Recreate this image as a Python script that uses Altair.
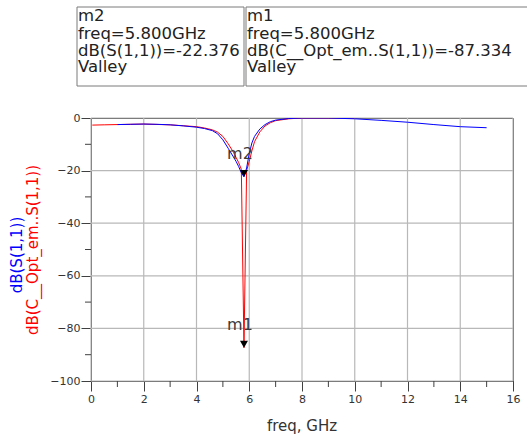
import altair as alt
import pandas as pd

# S-parameter sweeps (frequency in GHz, magnitude in dB)
s11_freq = [1.0, 1.5, 2.0, 2.5, 3.0, 3.5, 4.0, 4.3, 4.6, 4.8, 5.0, 5.2, 5.4, 5.5,
            5.6, 5.7, 5.8, 5.9, 6.0, 6.1, 6.2, 6.4, 6.6, 6.8, 7.0, 7.5, 8.0, 9.0,
            10.0, 11.0, 12.0, 13.0, 14.0, 15.0]
s11_db = [-2.5, -2.4, -2.3, -2.4, -2.6, -3.0, -3.5, -4.0, -4.8, -6.0, -8.3, -11.5,
          -14.8, -16.5, -18.5, -20.8, -22.376, -19.0, -13.5, -9.5, -7.0, -4.2, -2.5,
          -1.4, -0.8, -0.2, 0.0, 0.0, -0.3, -0.9, -1.6, -2.5, -3.3, -3.7]

opt_freq = [0.05, 0.5, 1.0, 2.0, 3.0, 4.0, 4.3, 4.6, 4.8, 5.0, 5.2, 5.4, 5.5, 5.6,
            5.7, 5.8, 5.9, 6.0, 6.1, 6.2, 6.4, 6.6, 6.8, 7.0, 7.5, 8.0, 9.0, 10.0]
opt_db = [-2.7, -2.6, -2.5, -2.3, -2.6, -3.3, -3.8, -4.5, -5.4, -7.0, -9.8, -13.0,
          -15.0, -17.0, -19.5, -87.334, -20.0, -16.5, -12.5, -9.0, -5.3, -3.0, -1.8,
          -1.0, -0.3, 0.0, 0.0, 0.0]

trace_names = ["dB(C__Opt_em..S(1,1))", "dB(S(1,1))"]
trace_colors = ["#ff0000", "#0000ff"]

# Valley markers
marker_names = ["m2", "m1"]
marker_freq = [5.8, 5.8]
marker_db = [-22.376, -87.334]
marker_traces = ["dB(S(1,1))", "dB(C__Opt_em..S(1,1))"]

x_major = [0, 2, 4, 6, 8, 10, 12, 14, 16]
x_minor = [1, 3, 5, 7, 9, 11, 13, 15]
y_major = [-100, -80, -60, -40, -20, 0]
y_minor = [-90, -70, -50, -30, -10]

FONT = "DejaVu Sans"
AXIS_GRAY = "#404040"
GRID_GRAY = "#b8b8b8"
W, H = 422, 263

curves = pd.concat([
    pd.DataFrame({"trace": trace_names[0], "freq": opt_freq, "db": opt_db,
                  "idx": range(len(opt_freq))}),
    pd.DataFrame({"trace": trace_names[1], "freq": s11_freq, "db": s11_db,
                  "idx": range(len(s11_freq))}),
])
markers = pd.DataFrame({"name": marker_names, "freq": marker_freq, "db": marker_db})

x_scale = alt.Scale(domain=[0, 16], nice=False, zero=False)
y_scale = alt.Scale(domain=[-100, 0], nice=False, zero=False)

x_axis = alt.Axis(values=x_major, grid=False, tickSize=10,
                  tickColor=AXIS_GRAY, domainColor=AXIS_GRAY, labelFont=FONT,
                  labelFontSize=11, labelColor="#333333", labelPadding=2,
                  labelFlush=False, title=None)
y_axis = alt.Axis(values=y_major, grid=False, tickSize=10,
                  tickColor=AXIS_GRAY, domainColor=AXIS_GRAY, labelFont=FONT,
                  labelFontSize=11, labelColor="#333333", labelPadding=1,
                  labelFlush=False, title=None)

X = lambda f: alt.X(f, scale=x_scale, axis=x_axis)
Y = lambda f: alt.Y(f, scale=y_scale, axis=y_axis)

# light grid at the labelled ticks
x_grid = alt.Chart(pd.DataFrame({"freq": x_major})).mark_rule(
    color=GRID_GRAY, strokeWidth=1.2
).encode(x=X("freq:Q"), y=alt.value(0), y2=alt.value(H))
y_grid = alt.Chart(pd.DataFrame({"db": y_major})).mark_rule(
    color=GRID_GRAY, strokeWidth=1.2
).encode(y=Y("db:Q"), x=alt.value(0), x2=alt.value(W))

lines = alt.Chart(curves).mark_line(strokeWidth=1, clip=True).encode(
    x=X("freq:Q"),
    y=Y("db:Q"),
    color=alt.Color("trace:N", scale=alt.Scale(domain=trace_names, range=trace_colors),
                    legend=None),
    order="idx:Q",
)

# minor ticks between the labelled ones
x_minor_ticks = alt.Chart(pd.DataFrame({"freq": x_minor})).mark_rule(
    color=AXIS_GRAY, strokeWidth=1
).encode(x=X("freq:Q"), y=alt.value(H), y2=alt.value(H + 6))
y_minor_ticks = alt.Chart(pd.DataFrame({"db": y_minor})).mark_rule(
    color=AXIS_GRAY, strokeWidth=1
).encode(y=Y("db:Q"), x=alt.value(-6), x2=alt.value(0))

marker_pts = alt.Chart(markers).mark_point(
    shape="triangle-down", filled=True, color="black", size=64, opacity=1, yOffset=-3.5
).encode(x=X("freq:Q"), y=Y("db:Q"))
marker_lbl = alt.Chart(markers).mark_text(
    font=FONT, fontSize=16, color="#3a3a3a", dx=-4, dy=-17.5, baseline="alphabetic"
).encode(x=X("freq:Q"), y=Y("db:Q"), text="name:N")

one = pd.DataFrame({"k": [0]})


def label(text, x, y, size, color="#222222", angle=0, align="left", baseline="alphabetic"):
    return alt.Chart(one).mark_text(
        font=FONT, fontSize=size, color=color, angle=angle, align=align, baseline=baseline
    ).encode(x=alt.value(x), y=alt.value(y), text=alt.value(text))


def readout_box(x0, x1, name, trace, value):
    box = alt.Chart(one).mark_rect(fillOpacity=0, stroke="#7a7a7a", strokeWidth=1).encode(
        x=alt.value(x0), x2=alt.value(x1), y=alt.value(-111), y2=alt.value(-32)
    )
    rows = [name, "freq=5.800GHz", f"{trace}={value:.3f}", "Valley"]
    texts = [label(t, x0 + 1, y, 16.5) for t, y in zip(rows, [-97, -79.5, -62.5, -46])]
    return [box] + texts


layers = [x_grid, y_grid, lines, x_minor_ticks, y_minor_ticks, marker_pts, marker_lbl]
layers += readout_box(-14, 153, marker_names[0], marker_traces[0], marker_db[0])
layers += readout_box(155, 470, marker_names[1], marker_traces[1], marker_db[1])
layers += [
    label("freq, GHz", W / 2, 313, 15, color="#333333", align="center"),
    label("dB(S(1,1))", -74, 137, 15, color="#0000ff", angle=270, align="center",
          baseline="middle"),
    label("dB(C__Opt_em..S(1,1))", -58, 132, 15, color="#ff0000", angle=270,
          align="center", baseline="middle"),
]

chart = alt.layer(*layers).properties(
    width=W,
    height=H,
    padding={"left": 91, "top": 118, "right": 14, "bottom": 57},
    autosize=alt.AutoSizeParams(type="none"),
).configure_view(stroke=AXIS_GRAY, strokeWidth=1)

chart.save("out.html", embed_options={"renderer": "svg", "actions": False})
